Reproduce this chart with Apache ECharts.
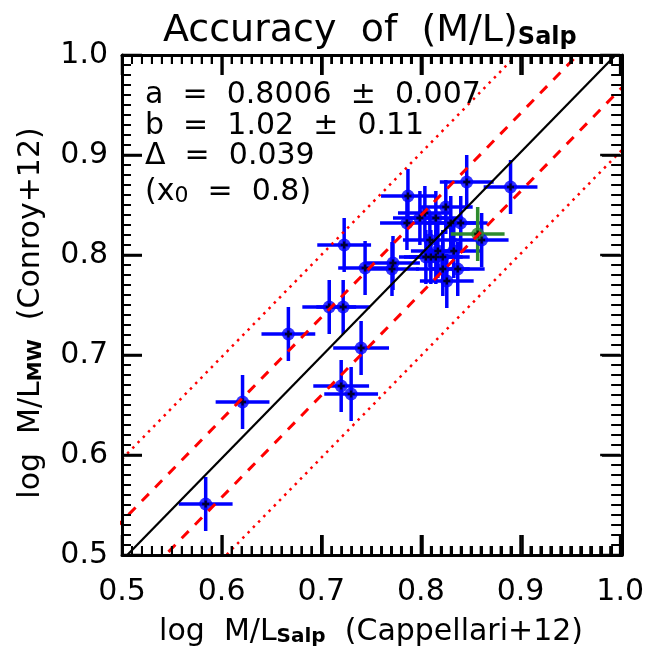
<!DOCTYPE html>
<html>
<head>
<meta charset="utf-8">
<script src="https://cdn.jsdelivr.net/npm/echarts@6/dist/echarts.min.js"></script>
<style>
    html, body { margin: 0; padding: 0; background: #fff; }
    #chart { width: 647px; height: 654px; }
</style>
</head>
<body>
<div id="chart"></div>
<script>
    // log M/L (Salpeter, Cappellari+12) vs log M/L (MW, Conroy+12)
    var xSalp = [0.584, 0.621, 0.667, 0.708, 0.722, 0.740, 0.720, 0.730, 0.723, 0.744, 0.771,
                 0.772, 0.787, 0.786, 0.799, 0.804, 0.815, 0.825, 0.830, 0.840, 0.846, 0.890,
                 0.809, 0.861, 0.817, 0.833, 0.805, 0.810, 0.815, 0.822, 0.822, 0.837, 0.826];
    var yMW   = [0.551, 0.653, 0.721, 0.748, 0.748, 0.707, 0.669, 0.661, 0.810, 0.787, 0.786,
                 0.792, 0.859, 0.832, 0.837, 0.842, 0.837, 0.848, 0.832, 0.832, 0.873, 0.868,
                 0.815, 0.815, 0.804, 0.804, 0.798, 0.798, 0.798, 0.798, 0.786, 0.786, 0.774];
    var xErr  = [0.027, 0.027, 0.027, 0.027, 0.027, 0.028, 0.028, 0.027, 0.027, 0.027, 0.027,
                 0.027, 0.027, 0.027, 0.027, 0.027, 0.027, 0.027, 0.027, 0.027, 0.027, 0.027,
                 0.027, 0.027, 0.027, 0.027, 0.027, 0.027, 0.027, 0.027, 0.027, 0.027, 0.027];
    var yErr  = [0.027, 0.027, 0.027, 0.027, 0.027, 0.027, 0.026, 0.027, 0.027, 0.027, 0.027,
                 0.027, 0.027, 0.027, 0.027, 0.027, 0.027, 0.027, 0.027, 0.027, 0.027, 0.027,
                 0.027, 0.027, 0.027, 0.027, 0.027, 0.027, 0.027, 0.027, 0.027, 0.027, 0.027];
    // the one highlighted galaxy
    var greenX = [0.857];
    var greenY = [0.821];
    var greenXErr = [0.027];
    var greenYErr = [0.027];

    // lts fit: y = a + b (x - x0), rms scatter delta
    var fitA = 0.8006, fitB = 1.02, fitX0 = 0.8, fitDelta = 0.039;
    var tickLabels = ['0.5', '0.6', '0.7', '0.8', '0.9', '1.0'];

    var FONT = 'DejaVu Sans';
    var plotBox = { left: 122, top: 55, width: 500, height: 500 };

    // frame tick positions: every 0.01, major every 0.1
    var tickVals = [];
    for (var i = 0; i <= 50; i++) tickVals.push([0.5 + i / 100, 0.5 + i / 100, i % 10 === 0 ? 1 : 0]);

    function rows(xs, ys, ex, ey) {
        return xs.map(function (x, i) { return [x, ys[i], ex[i], ey[i]]; });
    }

    function fitLine(off) {
        return [0.4, 1.1].map(function (x) {
            return [x, fitA + fitB * (x - fitX0) + off];
        });
    }

    function errBars(color) {
        return function (params, api) {
            var x = api.value(0), y = api.value(1), ex = api.value(2), ey = api.value(3);
            var l = api.coord([x - ex, y]), r = api.coord([x + ex, y]);
            var t = api.coord([x, y + ey]), b = api.coord([x, y - ey]);
            var st = { stroke: color, lineWidth: 3.5 };
            return {
                type: 'group',
                children: [
                    { type: 'line', shape: { x1: l[0], y1: l[1], x2: r[0], y2: r[1] }, style: st },
                    { type: 'line', shape: { x1: t[0], y1: t[1], x2: b[0], y2: b[1] }, style: st }
                ]
            };
        };
    }

    // inward ticks on all four sides, placed through the axes
    function frameTicks(params, api) {
        var v = api.value(0), major = api.value(2) === 1;
        var len = major ? 20 : 9;
        var st = { stroke: '#000', lineWidth: major ? 2.5 : 2 };
        var bt = api.coord([v, 0.5]), tp = api.coord([v, 1.0]);
        var lf = api.coord([0.5, v]), rt = api.coord([1.0, v]);
        return {
            type: 'group',
            children: [
                { type: 'line', shape: { x1: bt[0], y1: bt[1], x2: bt[0], y2: bt[1] - len }, style: st },
                { type: 'line', shape: { x1: tp[0], y1: tp[1], x2: tp[0], y2: tp[1] + len }, style: st },
                { type: 'line', shape: { x1: lf[0], y1: lf[1], x2: lf[0] + len, y2: lf[1] }, style: st },
                { type: 'line', shape: { x1: rt[0], y1: rt[1], x2: rt[0] - len, y2: rt[1] }, style: st }
            ]
        };
    }

    var plusPath = 'path://M2,0 L4,0 L4,2 L6,2 L6,4 L4,4 L4,6 L2,6 L2,4 L0,4 L0,2 L2,2 Z';

    // grid 0: labels and names
    function labelAxis(pos) {
        return {
            gridIndex: 0, type: 'value', position: pos, min: 0.5, max: 1.0, interval: 0.1,
            axisLine: { show: false },
            axisTick: { show: false },
            splitLine: { show: false },
            axisLabel: {
                color: '#000', fontFamily: FONT, fontSize: 30,
                margin: (pos === 'bottom') ? 22 : 14,
                formatter: function (v) { return tickLabels[Math.round((v - 0.5) * 10)]; }
            }
        };
    }
    // grid 1: the frame with its own ticks
    function frameAxis(pos) {
        return {
            gridIndex: 1, type: 'value', position: pos, min: 0.5, max: 1.0, interval: 0.1, z: 10,
            axisLine: { show: true, onZero: false, lineStyle: { color: '#000', width: 3 } },
            axisTick: { show: true, inside: true, length: 20, lineStyle: { color: '#000', width: 2.5 } },
            minorTick: { show: true, splitNumber: 10, length: 9, lineStyle: { color: '#000', width: 2 } },
            splitLine: { show: false },
            axisLabel: { show: false }
        };
    }

    var nameRich = {
        m: { fontFamily: FONT, fontSize: 30, color: '#000', verticalAlign: 'bottom', lineHeight: 36 },
        s: { fontFamily: FONT, fontSize: 20, fontWeight: 'bold', color: '#000', verticalAlign: 'bottom', lineHeight: 14 }
    };

    var xBottom = labelAxis('bottom');
    xBottom.name = '{m|log  M/L}{s|Salp}{m|  (Cappellari+12)}';
    xBottom.nameLocation = 'middle';
    xBottom.nameGap = 56;
    xBottom.nameTextStyle = { rich: nameRich };

    var yLeft = labelAxis('left');
    yLeft.name = '{m|log  M/L}{s|MW}{m|  (Conroy+12)}';
    yLeft.nameLocation = 'middle';
    yLeft.nameGap = 76;
    yLeft.nameRotate = 90;
    yLeft.nameTextStyle = { rich: nameRich, padding: [0, 16, 0, 0] };

    function textLine(txt, top) {
        return {
            text: txt, left: 145, top: top, padding: 0,
            textStyle: { fontFamily: FONT, fontSize: 30, fontWeight: 'normal', color: '#000', lineHeight: 30 }
        };
    }

    var chart = echarts.init(document.getElementById('chart'));

    var option = {
        animation: false,
        title: [
            {
                text: '{m|Accuracy  of  (M/L)}{s|Salp}', left: 163, top: 4, padding: 0,
                textStyle: {
                    rich: {
                        m: { fontFamily: FONT, fontSize: 38, fontWeight: 'normal', color: '#000', verticalAlign: 'bottom', lineHeight: 46 },
                        s: { fontFamily: FONT, fontSize: 24, fontWeight: 'bold', color: '#000', verticalAlign: 'bottom', lineHeight: 13 }
                    }
                }
            },
            textLine('a  =  0.8006  \u00b1  0.007', 80),
            textLine('b  =  1.02  \u00b1  0.11', 111),
            textLine('\u0394  =  0.039', 141),
            {
                text: '{m|(x}{s|0}{m|  =  0.8)}', left: 145, top: 171, padding: 0,
                textStyle: {
                    rich: {
                        m: { fontFamily: FONT, fontSize: 30, fontWeight: 'normal', color: '#000', verticalAlign: 'bottom', lineHeight: 36 },
                        s: { fontFamily: FONT, fontSize: 22, fontWeight: 'normal', color: '#000', verticalAlign: 'bottom', lineHeight: 10 }
                    }
                }
            }
        ],
        grid: [plotBox, plotBox],
        xAxis: [xBottom, frameAxis('bottom'), frameAxis('top')],
        yAxis: [yLeft, frameAxis('left'), frameAxis('right')],
        series: [
            {
                type: 'line', data: fitLine(0), symbol: 'none',
                lineStyle: { color: '#000', width: 2.2 }, silent: true
            },
            {
                type: 'line', data: fitLine(fitDelta), symbol: 'none',
                lineStyle: { color: '#ff0000', width: 3, type: [10, 9] }, silent: true
            },
            {
                type: 'line', data: fitLine(-fitDelta), symbol: 'none',
                lineStyle: { color: '#ff0000', width: 3, type: [10, 9] }, silent: true
            },
            {
                type: 'line', data: fitLine(2.6 * fitDelta), symbol: 'none',
                lineStyle: { color: '#ff0000', width: 2.5, type: [2.5, 5] }, silent: true
            },
            {
                type: 'line', data: fitLine(-2.6 * fitDelta), symbol: 'none',
                lineStyle: { color: '#ff0000', width: 2.5, type: [2.5, 5] }, silent: true
            },
            {
                type: 'custom', data: rows(xSalp, yMW, xErr, yErr),
                encode: { x: 0, y: 1 }, renderItem: errBars('#0000ff'), silent: true
            },
            {
                type: 'custom', data: rows(greenX, greenY, greenXErr, greenYErr),
                encode: { x: 0, y: 1 }, renderItem: errBars('#2e8b2e'), silent: true
            },
            {
                type: 'scatter', data: rows(xSalp, yMW, xErr, yErr), symbol: 'circle', symbolSize: 13,
                itemStyle: { color: '#0000ff' }, silent: true
            },
            {
                type: 'scatter', data: rows(greenX, greenY, greenXErr, greenYErr), symbol: 'circle', symbolSize: 13,
                itemStyle: { color: '#2e8b2e' }, silent: true
            },
            {
                type: 'scatter', data: rows(xSalp.concat(greenX), yMW.concat(greenY), xErr.concat(greenXErr), yErr.concat(greenYErr)),
                symbol: plusPath, symbolSize: 7, itemStyle: { color: '#000' }, silent: true
            },
            {
                type: 'custom', data: tickVals, encode: { x: 0, y: 1 },
                renderItem: frameTicks, silent: true, z: 20
            }
        ]
    };

    chart.setOption(option);
</script>
</body>
</html>
